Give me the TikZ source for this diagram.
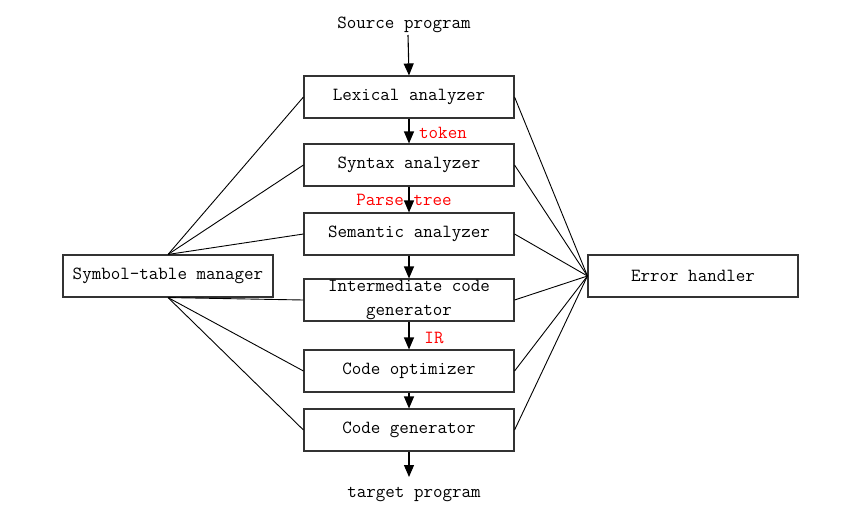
\documentclass[tikz,border=0pt]{standalone}
\usetikzlibrary{arrows.meta}

\tikzset{
  phase/.style={draw=black!80, line width=1.1pt, minimum width=210pt, minimum height=42pt,
    inner sep=0pt, font=\ttfamily\fontsize{18.5}{24}\selectfont, align=center},
  flow/.style={line width=1.1pt, -{Triangle[length=12pt,width=10pt]}},
  link/.style={line width=0.9pt},
  tag/.style={font=\ttfamily\fontsize{18.5}{24}\selectfont, text=red},
  plain/.style={font=\ttfamily\fontsize{18.5}{24}\selectfont}
}

\begin{document}
\begin{tikzpicture}[x=1pt,y=-1pt]
  \useasboundingbox (0,0) rectangle (863,523);

  % Compiler phases
  \node[plain] (src) at (404, 25) {Source program};
  \node[phase] (lex) at (409, 97) {Lexical analyzer};
  \node[phase] (syn) at (409, 165) {Syntax analyzer};
  \node[phase] (sem) at (409, 234) {Semantic analyzer};
  \node[phase] (inter) at (409, 300) {Intermediate code\\generator};
  \node[phase] (opt) at (409, 371) {Code optimizer};
  \node[phase] (gen) at (409, 430) {Code generator};
  \node[plain] (tgt) at (414, 494) {target program};

  % Side boxes
  \node[phase] (sym) at (168, 276) {Symbol-table manager};
  \node[phase] (err) at (693, 276) {Error handler};

  % Main flow
  \coordinate (srcend) at (408, 35);
  \coordinate (tgtend) at (409, 477);
  \draw[flow] (srcend) -- (lex.north);
  \draw[flow] (lex.south) -- (syn.north);
  \draw[flow] (syn.south) -- (sem.north);
  \draw[flow] (sem.south) -- (inter.north);
  \draw[flow] (inter.south) -- (opt.north);
  \draw[flow] (opt.south) -- (gen.north);
  \draw[flow] (gen.south) -- (tgtend);

  % Flow labels
  \node[tag] (tok) at (443, 133) {token};
  \node[tag] (tree) at (404, 200) {Parse tree};
  \node[tag] (ir) at (434, 338) {IR};

  % Symbol table links
  \foreach \p in {lex, syn, sem}
    \draw[link] (sym.north) -- (\p.west);
  \foreach \p in {inter, opt, gen}
    \draw[link] (sym.south) -- (\p.west);

  % Error handler links
  \foreach \p in {lex, syn, sem, inter, opt, gen}
    \draw[link] (\p.east) -- (err.west);
\end{tikzpicture}
\end{document}
